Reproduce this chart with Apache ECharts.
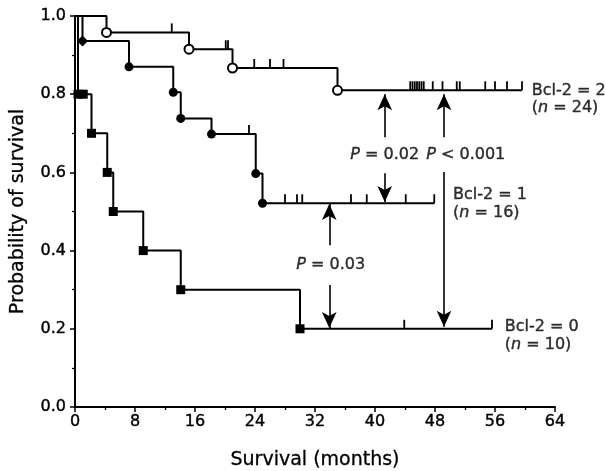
<!DOCTYPE html>
<html lang="en">
<head>
<meta charset="UTF-8">
<title>Bcl-2 survival</title>
<style>
  body { margin: 0; background: #fff; }
  #chart { width: 606px; height: 471px; }
</style>
</head>
<body>
<div id="chart"></div>
<script src="https://cdn.jsdelivr.net/npm/echarts@6/dist/echarts.min.js"></script>
<script>
const FONT = 'DejaVu Sans';
const INK = '#000';

// Bcl-2 = 2 (open circles)
const g2Times = [4.2, 15.2, 21.0, 35.0];
const g2Surv = [0.958, 0.915, 0.867, 0.81];
const g2Censor = [12.9, 20.1, 20.4, 23.9, 26.0, 27.8, 44.7, 45.0, 45.3, 45.6, 45.9, 46.2, 46.5, 47.7, 49.0, 50.9, 51.3, 54.7, 56.0, 57.6, 59.6];

// Bcl-2 = 1 (filled circles)
const g1Times = [1.0, 7.2, 13.1, 14.1, 18.2, 24.1, 25.0];
const g1Surv = [0.936, 0.87, 0.805, 0.738, 0.698, 0.597, 0.521];
const g1Censor = [23.2, 28.0, 29.6, 30.3, 36.8, 38.9, 44.1, 47.9];

// Bcl-2 = 0 (filled squares)
const g0Times = [0.4, 1.1, 2.2, 4.3, 5.1, 9.1, 14.1, 30.0];
const g0Surv = [0.8, 0.8, 0.7, 0.6, 0.5, 0.4, 0.3, 0.2];
const g0Censor = [43.9, 55.6];

// log-rank arrows: x, from y, to y
const arrowX = [41.3, 41.3, 49.2, 49.2, 33.9, 33.9];
const arrowFrom = [0.69, 0.598, 0.69, 0.601, 0.414, 0.312];
const arrowTo = [0.80, 0.524, 0.80, 0.205, 0.519, 0.202];

const pText = ['{i|P} = 0.02', '{i|P} < 0.001', '{i|P} = 0.03'];
const pX = [41.3, 52.1, 34.1];
const pY = [0.645, 0.645, 0.363];

const groupText = ['Bcl-2 = 2', 'Bcl-2 = 1', 'Bcl-2 = 0'];
const groupN = ['24', '16', '10'];
const groupX = [60.9, 50.4, 57.3];
const groupY = [0.809, 0.542, 0.205];

function survAt(times, surv, t) {
    let s = 1;
    times.forEach((ti, i) => { if (ti <= t) s = surv[i]; });
    return s;
}

function curveData(times, surv, censor) {
    const end = Math.max(...times, ...censor);
    return [[0, 1]].concat(times.map((t, i) => [t, surv[i]]), [[end, surv[surv.length - 1]]]);
}

function groupSeries(times, surv, censor, symbol, firstSymbol) {
    return [
        {
            type: 'line', step: 'end', symbol: 'none', silent: true,
            data: curveData(times, surv, censor),
            lineStyle: { color: INK, width: 2 }
        },
        {
            type: 'scatter', symbol: symbol, symbolSize: 9, silent: true, z: 4,
            data: times.map((t, i) => (i === 0 && firstSymbol)
                ? { value: [t, surv[i]], symbol: firstSymbol, symbolSize: 11 }
                : [t, surv[i]]),
            itemStyle: {
                color: INK, borderColor: INK, opacity: 1,
                borderWidth: symbol === 'emptyCircle' ? 1.6 : 0
            }
        },
        {
            type: 'scatter', symbol: 'rect', symbolSize: [1.8, 9], symbolOffset: [0, -4.5], silent: true,
            data: censor.map(t => [t, survAt(times, surv, t)]),
            itemStyle: { color: INK, opacity: 1 }
        }
    ];
}

const textStyle = {
    fontFamily: FONT, fontSize: 16, color: INK,
    textBorderColor: INK, textBorderWidth: 0.4
};

const chart = echarts.init(document.getElementById('chart'));

const series = [].concat(
    groupSeries(g2Times, g2Surv, g2Censor, 'emptyCircle'),
    groupSeries(g1Times, g1Surv, g1Censor, 'circle', 'diamond'),
    groupSeries(g0Times, g0Surv, g0Censor, 'rect')
);

series.push({
    type: 'line', data: [], silent: true,
    markLine: {
        silent: true, animation: false,
        symbol: ['none', 'arrow'], symbolSize: [11, 16],
        label: { show: false },
        lineStyle: { color: INK, width: 1.6, type: 'solid' },
        data: arrowX.map((x, i) => [{ coord: [x, arrowFrom[i]] }, { coord: [x, arrowTo[i]] }])
    }
});

series.push({
    type: 'scatter', symbolSize: 0, silent: true,
    data: pX.map((x, i) => ({
        value: [x, pY[i]],
        label: { show: true, position: 'inside', formatter: pText[i] }
    })),
    label: { ...textStyle, rich: { i: { ...textStyle, fontStyle: 'italic' } } }
});

series.push({
    type: 'scatter', symbolSize: 0, silent: true,
    data: groupX.flatMap((x, i) => [
        { value: [x, groupY[i]], label: { show: true, position: 'right', distance: 0, formatter: groupText[i] } },
        { value: [x, groupY[i] - 0.045], label: { show: true, position: 'right', distance: 0, formatter: '({i|n} = ' + groupN[i] + ')' } }
    ]),
    label: { ...textStyle, rich: { i: { ...textStyle, fontStyle: 'italic' } } }
});

chart.setOption({
    animation: false,
    backgroundColor: '#fff',
    grid: { left: 75, right: 51, top: 16, bottom: 64, outerBoundsMode: 'none' },
    xAxis: {
        type: 'value', min: 0, max: 64, interval: 8,
        name: 'Survival (months)', nameLocation: 'middle', nameGap: 44,
        nameTextStyle: { fontFamily: FONT, fontSize: 19, color: INK, textBorderColor: INK, textBorderWidth: 0.3 },
        axisLine: { lineStyle: { color: INK, width: 1.8 } },
        axisTick: { length: 5, lineStyle: { color: INK, width: 1.5 } },
        minorTick: { show: true, splitNumber: 2, length: 3, lineStyle: { color: INK, width: 1.3 } },
        axisLabel: { ...textStyle, margin: 7 },
        splitLine: { show: false }
    },
    yAxis: {
        type: 'value', min: 0, max: 1, interval: 0.2,
        name: 'Probability of survival', nameLocation: 'middle', nameGap: 47,
        nameTextStyle: { fontFamily: FONT, fontSize: 19, color: INK, textBorderColor: INK, textBorderWidth: 0.3 },
        axisLine: { show: true, lineStyle: { color: INK, width: 2 } },
        axisTick: { show: true, length: 5, lineStyle: { color: INK, width: 1.5 } },
        minorTick: { show: true, splitNumber: 2, length: 3, lineStyle: { color: INK, width: 1.3 } },
        axisLabel: { ...textStyle, margin: 9, formatter: v => v.toFixed(1) },
        splitLine: { show: false }
    },
    series: series
});
</script>
</body>
</html>
